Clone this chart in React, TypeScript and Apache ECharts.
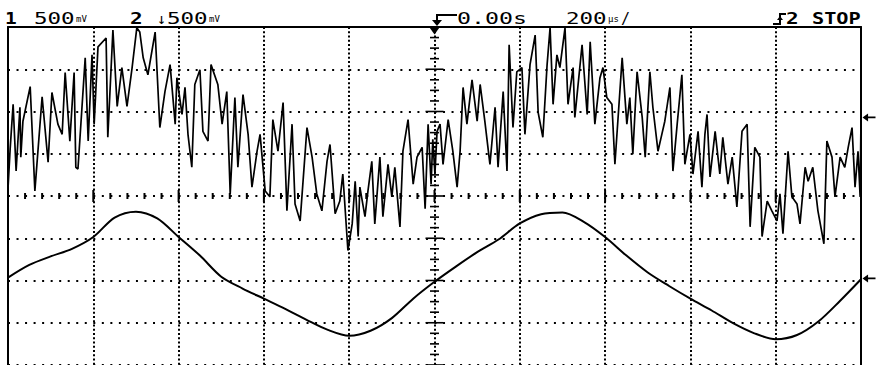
import React, { useEffect, useRef } from "react";
import * as echarts from "echarts";

// Oscilloscope settings
const usPerDiv = 200;
const mVPerDiv = 500;
const ch1GroundDiv = 1.86; // channel 1 ground marker (divisions from centre)
const ch2GroundDiv = -1.95; // channel 2 ground marker

// Channel 1 (noisy) samples: [time µs, mV]
const ch1Samples: number[][] = [
  [-1000, -845], [-995, -375], [-988, 155], [-981, -635], [-972, 120], [-970, -470], [-965, -45], [-948, 365],
  [-937, -870], [-920, 245], [-906, -530], [-897, 295], [-883, -80], [-873, -200], [-866, 530], [-855, -280],
  [-845, 530], [-841, -590], [-836, -610], [-819, 705], [-812, -280], [-803, 740], [-798, -80], [-789, 835],
  [-770, 940], [-766, -235], [-754, 1035], [-744, 130], [-733, 590], [-721, 130], [-709, 590], [-698, 1060],
  [-691, 1010], [-683, 705], [-672, 505], [-655, 1010], [-644, -120], [-632, 305], [-620, 625], [-608, -80],
  [-604, 470], [-592, 35], [-585, 355], [-578, -200], [-569, -590], [-562, 390], [-550, 565], [-543, -165],
  [-531, -280], [-524, 625], [-508, 390], [-498, -80], [-487, 305], [-479, -905], [-468, 235], [-461, -590],
  [-449, 270], [-437, -200], [-428, -825], [-416, -400], [-409, -200], [-397, -870], [-386, -940], [-379, -25],
  [-367, -400], [-355, 175], [-346, -1105], [-334, -80], [-327, -1025], [-315, -1225], [-299, -120], [-287, -470],
  [-276, -905], [-264, -1105], [-252, -520], [-245, -320], [-233, -1140], [-222, -990], [-215, -670], [-203, -1575],
  [-193, -1260], [-186, -755], [-179, -1410], [-175, -825], [-163, -1175], [-156, -870], [-147, -520], [-140, -1260],
  [-128, -470], [-121, -1175], [-109, -555], [-100, -940], [-93, -590], [-81, -1295], [-74, -400], [-62, -25],
  [-50, -790], [-41, -470], [-29, -355], [-22, -1080], [-15, -80], [-8, -790], [-4, -260], [1, -670],
  [6, -165], [13, -80], [20, -555], [32, -25], [43, -400], [53, -825], [60, -400], [67, 355],
  [76, -80], [88, 445], [100, -45], [107, 390], [118, -45], [130, -555], [142, 120], [149, -590],
  [161, 305], [170, -635], [175, 860], [184, -120], [193, 540], [205, 590], [212, -200], [224, 625],
  [236, 975], [243, 60], [254, -235], [264, 625], [271, 1060], [278, 155], [287, 740], [294, 590],
  [306, 1060], [313, 155], [325, 590], [329, 0], [346, 860], [358, 35], [365, 895], [376, -80],
  [388, 470], [395, 590], [404, 235], [416, 155], [423, -555], [440, 705], [451, -80], [458, 235],
  [465, -435], [475, 540], [487, 0], [494, -470], [505, 540], [512, 120], [524, -400], [533, -200],
  [540, -45], [552, 355], [559, -635], [569, -80], [580, 505], [587, -555], [599, -200], [606, -670],
  [618, -165], [627, -825], [634, -200], [639, 35], [646, -705], [658, -165], [669, -670], [676, -235],
  [688, -790], [698, -470], [709, -1060], [721, -165], [733, -80], [740, -1295], [751, -355], [763, -470],
  [768, -1410], [780, -990], [791, -1105], [803, -1225], [810, -905], [817, -1375], [829, -400], [838, -940],
  [850, -1025], [857, -1260], [869, -590], [876, -755], [887, -590], [899, -1105], [913, -1495], [920, -280],
  [932, -470], [939, -940], [951, -470], [962, -590], [970, -355], [979, -120], [986, -825], [993, -400],
  [998, -940], [1000, 0],
];

// Channel 2 (clean) samples
const ch2TimeUs = [
  -1000, -950, -900, -850, -800, -750, -700, -650, -600, -550, -500, -450, -400, -350, -300, -250, -200, -150, -100, -50,
  0, 50, 100, 150, 200, 250, 300, 350, 400, 450, 500, 550, 600, 650, 700, 750, 800, 850, 900, 950, 1000,
];
const ch2mV = [
  10, 160, 260, 350, 490, 720, 790, 710, 490, 270, 20, -120, -240, -360, -490, -610, -680, -620, -470, -240,
  -40, 140, 310, 460, 650, 760, 780, 670, 490, 270, 70, -90, -240, -380, -530, -650, -720, -670, -510, -270, -10,
];

// Header texts
const ch1Scale = "500";
const ch2Scale = "500";
const timeRef = "0.00s";
const timeBase = "200";
const trigSource = "2";
const runState = "STOP";

const FONT = '"DejaVu Sans Mono", monospace';

export default function App() {
  const ref = useRef<HTMLDivElement>(null);

  useEffect(() => {
    if (!ref.current) return;
    const chart = echarts.init(ref.current, null, { renderer: "svg" });

    const ch1Data = ch1Samples.map(([t, mv]) => [t, mv / mVPerDiv + ch1GroundDiv]);
    const ch2Data = ch2TimeUs.map((t, i) => [t, ch2mV[i] / mVPerDiv + ch2GroundDiv]);

    // graticule ticks along the centre lines
    const tickData: number[][] = [];
    for (let k = -25; k <= 25; k++) {
      const t = (k * usPerDiv) / 5;
      tickData.push([t, 0, k % 5 === 0 ? 1 : 0, 0]);
    }
    for (let k = -16; k <= 16; k++) {
      tickData.push([0, k / 4, k % 4 === 0 ? 1 : 0, 1]);
    }

    const arrowPath = "path://M0,5L6,0L6,4L14,4L14,6L6,6L6,10Z";

    const txt = (x: number, text: string, opts: any = {}) => ({
      type: "text",
      x,
      y: 19,
      scaleX: opts.scaleX ?? 1.5,
      style: {
        text,
        font: `${opts.bold ? "bold " : ""}${opts.size ?? 15}px ${FONT}`,
        fill: "#000",
        verticalAlign: "middle",
        textAlign: "left",
      },
    });

    const hiddenAxisParts = {
      axisTick: { show: false },
      axisLabel: { show: false },
    };
    const borderLine = { show: true, onZero: false, lineStyle: { color: "#000", width: 2 } };

    chart.setOption({
      animation: false,
      backgroundColor: "#fff",
      grid: {
        left: 8,
        top: 27,
        width: 853,
        height: 340,
        show: false,
      },
      xAxis: {
        type: "value",
        position: "top",
        min: -5 * usPerDiv,
        max: 5 * usPerDiv,
        interval: usPerDiv,
        axisLine: borderLine,
        ...hiddenAxisParts,
        splitLine: { show: true, lineStyle: { color: "#000", width: 2, type: [2, 2.25] } },
      },
      yAxis: [
        {
          type: "value",
          position: "left",
          min: -4,
          max: 4,
          interval: 1,
          axisLine: borderLine,
          ...hiddenAxisParts,
          splitLine: { show: true, lineStyle: { color: "#000", width: 2, type: [2, 6.53] } },
        },
        {
          type: "value",
          position: "right",
          min: -4,
          max: 4,
          interval: 1,
          axisLine: borderLine,
          ...hiddenAxisParts,
          splitLine: { show: false },
        },
      ],
      series: [
        {
          type: "custom",
          silent: true,
          data: tickData,
          z: 2,
          renderItem: (params: any, api: any) => {
            const p = api.coord([api.value(0), api.value(1)]);
            const major = api.value(2) === 1;
            if (api.value(3) === 0) {
              const h = major ? 6 : 3;
              return {
                type: "line",
                shape: { x1: p[0], y1: p[1] - h, x2: p[0], y2: p[1] + h },
                style: { stroke: "#000", lineWidth: 2 },
              };
            }
            const w = major ? 9 : 4.5;
            return {
              type: "line",
              shape: { x1: p[0] - w, y1: p[1], x2: p[0] + w, y2: p[1] },
              style: { stroke: "#000", lineWidth: 1.6 },
            };
          },
        },
        {
          type: "line",
          name: "CH1",
          data: ch1Data,
          showSymbol: false,
          silent: true,
          z: 3,
          lineStyle: { color: "#000", width: 1.7 },
          markPoint: {
            silent: true,
            label: { show: false },
            itemStyle: { color: "#000" },
            data: [
              { coord: [5 * usPerDiv, ch1GroundDiv], symbol: arrowPath, symbolSize: [13, 8], symbolOffset: [8, 0] },
            ],
          },
        },
        {
          type: "line",
          name: "CH2",
          data: ch2Data,
          smooth: 0.3,
          showSymbol: false,
          silent: true,
          z: 3,
          lineStyle: { color: "#000", width: 2 },
          markPoint: {
            silent: true,
            label: { show: false },
            itemStyle: { color: "#000" },
            data: [
              { coord: [5 * usPerDiv, ch2GroundDiv], symbol: arrowPath, symbolSize: [13, 8], symbolOffset: [8, 0] },
              { coord: [0, 4], symbol: "triangle", symbolRotate: 180, symbolSize: [10, 7], symbolOffset: [0, 4] },
            ],
          },
        },
      ],
      graphic: [
        txt(5, "1", { bold: true, scaleX: 1.3 }),
        txt(34, ch1Scale),
        txt(76, "mV", { size: 9, scaleX: 1 }),
        txt(130, "2", { bold: true, scaleX: 1.4 }),
        txt(157, "↓", { scaleX: 1 }),
        txt(167, ch2Scale),
        txt(209, "mV", { size: 9, scaleX: 1 }),
        {
          type: "polyline",
          shape: { points: [[457, 15], [437, 15], [437, 22]] },
          style: { stroke: "#000", lineWidth: 2, fill: null },
        },
        {
          type: "polygon",
          shape: { points: [[432, 20], [442, 20], [437, 26]] },
          style: { fill: "#000" },
        },
        txt(457, timeRef, { scaleX: 1.55 }),
        txt(566, timeBase),
        txt(608, "µs", { size: 9, scaleX: 1 }),
        txt(621, "/", { scaleX: 1 }),
        {
          type: "polyline",
          shape: { points: [[773, 24], [780, 24], [780, 14], [786, 14]] },
          style: { stroke: "#000", lineWidth: 2, fill: null },
        },
        {
          type: "polygon",
          shape: { points: [[777, 20], [783, 20], [780, 16]] },
          style: { fill: "#000" },
        },
        txt(786, trigSource, { bold: true, scaleX: 1.4 }),
        txt(812, runState, { bold: true, scaleX: 1.35 }),
      ],
    });

    return () => chart.dispose();
  }, []);

  return (
    <div
      ref={ref}
      style={{ position: "absolute", left: 0, top: 0, width: 878, height: 365, background: "#fff" }}
    />
  );
}
